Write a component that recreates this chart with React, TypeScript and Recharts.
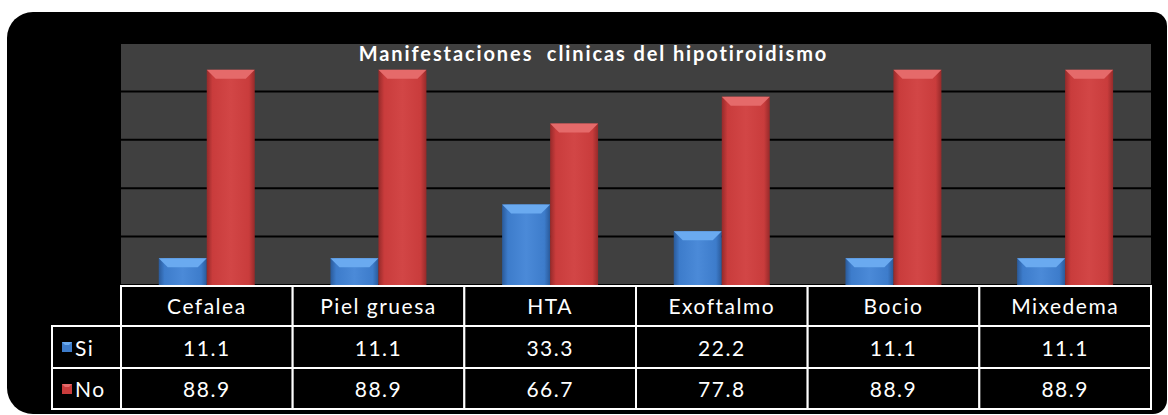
import React from 'react';
import { BarChart, Bar, XAxis, YAxis, CartesianGrid } from 'recharts';

const categories = ['Cefalea', 'Piel gruesa', 'HTA', 'Exoftalmo', 'Bocio', 'Mixedema'];
const siValues = [11.1, 11.1, 33.3, 22.2, 11.1, 11.1];
const noValues = [88.9, 88.9, 66.7, 77.8, 88.9, 88.9];
const yTicks = [0, 20, 40, 60, 80, 100];
const title = 'Manifestaciones  clinicas del hipotiroidismo';

const data = categories.map((name, i) => ({ name, si: siValues[i], no: noValues[i] }));

const W = 1168;
const H = 415;
const PLOT_LEFT = 121;
const PLOT_RIGHT = 1151;
const PLOT_TOP = 43;
const PLOT_BOTTOM = 285;
const COL_W = (PLOT_RIGHT - PLOT_LEFT) / categories.length;
const ROW1 = 286;
const ROW2 = 326;
const ROW3 = 368;
const ROW_END = 409;
const FONT = 'Lato, "Open Sans", sans-serif';

const palette: Record<string, { body: string; light: string; dark: string; top: string }> = {
  si: { body: '#3d7ccb', light: '#4b8ad8', dark: '#2a5a9a', top: '#6aaaf0' },
  no: { body: '#c93c3c', light: '#d24646', dark: '#962a2a', top: '#e56a6a' },
};

function Bar3D(props: any) {
  const { x, y, width, height, dataKey } = props;
  if (!height || height <= 0) return null;
  const c = palette[dataKey] || palette.si;
  const b = Math.min(9, height / 2);
  const id = `g-${dataKey}-${Math.round(x)}`;
  return (
    <g>
      <defs>
        <linearGradient id={id} x1="0" y1="0" x2="1" y2="0">
          <stop offset="0%" stopColor={c.dark} />
          <stop offset="12%" stopColor={c.body} />
          <stop offset="50%" stopColor={c.light} />
          <stop offset="88%" stopColor={c.body} />
          <stop offset="100%" stopColor={c.dark} />
        </linearGradient>
      </defs>
      <rect x={x} y={y} width={width} height={height} fill={`url(#${id})`} />
      <polygon
        points={`${x},${y} ${x + width},${y} ${x + width - b},${y + b} ${x + b},${y + b}`}
        fill={c.top}
      />
    </g>
  );
}

function Marker({ x, y, k }: { x: number; y: number; k: string }) {
  const c = palette[k];
  return (
    <g>
      <rect x={x} y={y} width={10} height={10} fill={c.body} />
      <polygon points={`${x},${y} ${x + 10},${y} ${x + 7},${y + 3} ${x + 3},${y + 3}`} fill={c.top} />
    </g>
  );
}

function TableTick(props: any) {
  const { x, payload } = props;
  const i = payload?.index ?? props.index ?? 0;
  const left = x - COL_W / 2;
  const txt = { fill: '#fff', fontSize: 21, fontFamily: FONT, letterSpacing: 1.5, textAnchor: 'middle' as const };
  return (
    <g>
      <rect x={left} y={ROW1} width={COL_W} height={ROW_END - ROW1} fill="#000" stroke="#fff" strokeWidth={2} />
      <line x1={left} x2={left + COL_W} y1={ROW2} y2={ROW2} stroke="#fff" strokeWidth={2} />
      <line x1={left} x2={left + COL_W} y1={ROW3} y2={ROW3} stroke="#fff" strokeWidth={2} />
      <text x={x} y={314} {...txt}>{categories[i]}</text>
      <text x={x} y={356} {...txt}>{siValues[i].toFixed(1)}</text>
      <text x={x} y={397} {...txt}>{noValues[i].toFixed(1)}</text>
      {i === 0 && (
        <g>
          <rect x={52} y={ROW2} width={PLOT_LEFT - 52} height={ROW_END - ROW2} fill="#000" stroke="#fff" strokeWidth={2} />
          <line x1={52} x2={PLOT_LEFT} y1={ROW3} y2={ROW3} stroke="#fff" strokeWidth={2} />
          <Marker x={62} y={342} k="si" />
          <Marker x={62} y={384} k="no" />
          <text x={75} y={356} fill="#fff" fontSize={21} fontFamily={FONT} letterSpacing={1.5}>Si</text>
          <text x={75} y={397} fill="#fff" fontSize={21} fontFamily={FONT} letterSpacing={1.5}>No</text>
        </g>
      )}
    </g>
  );
}

export default function App() {
  return (
    <div style={{ position: 'absolute', left: 0, top: 0, width: W, height: H, background: '#fff', overflow: 'hidden' }}>
      <div
        style={{
          position: 'absolute',
          left: 7,
          top: 12,
          width: 1160,
          height: 402,
          background: '#000',
          borderRadius: '26px 14px 14px 26px',
        }}
      />
      <div style={{ position: 'absolute', left: 0, top: 0 }}>
        <BarChart
          width={W}
          height={H}
          data={data}
          margin={{ top: PLOT_TOP, right: W - PLOT_RIGHT, left: PLOT_LEFT, bottom: 0 }}
          barCategoryGap="22%"
          barGap={0}
        >
          <CartesianGrid vertical={false} horizontal fill="#404040" stroke="#000" strokeWidth={2} />
          <XAxis
            dataKey="name"
            height={H - PLOT_BOTTOM}
            axisLine={false}
            tickLine={false}
            interval={0}
            tick={<TableTick />}
          />
          <YAxis hide domain={[0, 100]} ticks={yTicks} />
          <Bar dataKey="si" isAnimationActive={false} shape={<Bar3D />} />
          <Bar dataKey="no" isAnimationActive={false} shape={<Bar3D />} />
        </BarChart>
      </div>
      <svg width={W} height={80} style={{ position: 'absolute', left: 0, top: 0 }}>
        <text
          x={593.5}
          y={61}
          textAnchor="middle"
          fill="#fff"
          fontFamily={FONT}
          fontWeight="bold"
          fontSize={20}
          letterSpacing={1.9}
          style={{ whiteSpace: 'pre' }}
        >
          {title}
        </text>
      </svg>
    </div>
  );
}
